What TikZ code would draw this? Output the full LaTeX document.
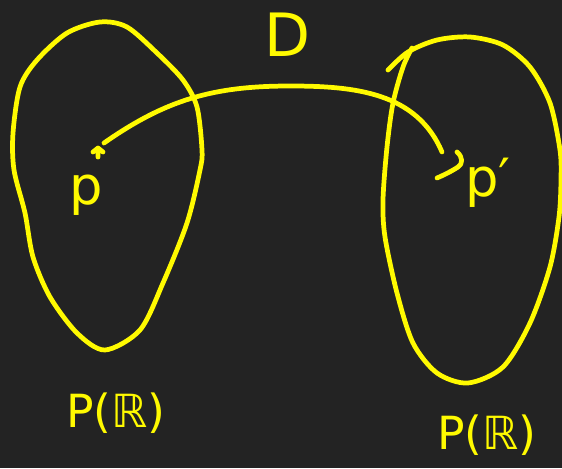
\documentclass[tikz,border=0pt]{standalone}
\usepackage{fontspec}
\setmainfont{DejaVu Sans}
\definecolor{board}{RGB}{35,35,35}
\definecolor{chalk}{RGB}{255,250,0}

\begin{document}
\begin{tikzpicture}[x = .02cm, y = .02cm,
    pen/.style = {draw = chalk, line width = 2.7pt, line cap = round, line join = round},
    lbl/.style = {text = chalk, inner sep = 0pt}]
      \useasboundingbox (0,0) rectangle (562,468);
      \fill [board] (0,0) rectangle (562,468);
      % left set
      \draw [pen] plot [smooth cycle] coordinates {(37,408) (67,435) (100,446) (127,441)
        (157,415) (183,388) (197,361) (202,318) (200,298) (187,245) (163,185) (140,138)
        (105,118) (77,135) (50,171) (33,211) (25,255) (14,298) (13,335) (20,381)};
      % right set
      \draw [pen] plot [smooth] coordinates {(388,398) (408,416) (437,428) (470,431)
        (503,423) (530,401) (550,365) (560,318) (561,288) (559,251) (550,201) (530,145)
        (503,101) (468,85) (437,95) (413,125) (397,175) (385,231) (383,268) (387,321)
        (393,365) (403,401) (412,420)};
      \coordinate (p) at (98,320);
      \draw [pen] (p) -- ++(0,-9) (p) ++(-5,-4) -- (p) -- ++(5,-4);
      \coordinate (start) at (104,325);
      \coordinate (top) at (290,382);
      \coordinate (end) at (442,316);
      \draw [pen] (start) to [out = 35, in = 180] (top) to [out = 0, in = 113] (end);
      \draw [pen] (457,316) .. controls (463,311) and (463,304) .. (458,301)
        .. controls (452,297) and (444,293) .. (437,290);
      \node [lbl, font = \fontsize{34}{34}\selectfont] (D) at (287,433) {D};
      \node [lbl, font = \fontsize{30}{30}\selectfont] (plbl) at (86,273) {p};
      \node [lbl, font = \fontsize{30}{30}\selectfont] (pplbl) at (488,285) {p′};
      \node [lbl, font = \fontsize{26}{26}\selectfont] (left) at (116,55) {P(ℝ)};
      \node [lbl, font = \fontsize{26}{26}\selectfont] (right) at (487,33) {P(ℝ)};
    \end{tikzpicture}
\end{document}
